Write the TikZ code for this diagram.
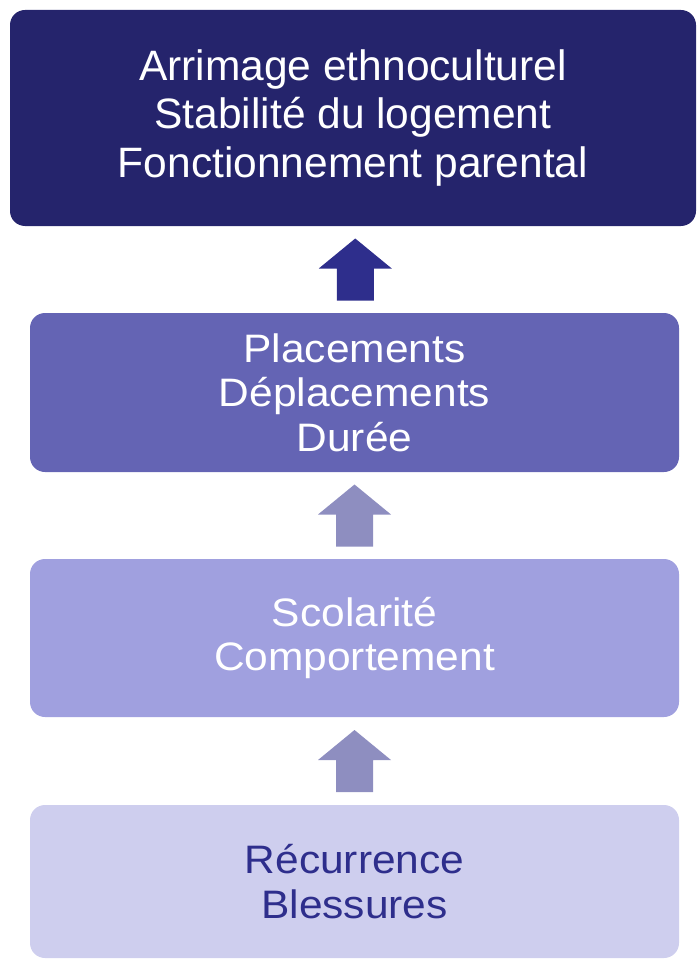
\documentclass[tikz,border=0pt]{standalone}
\usepackage{fontspec}
\setmainfont{Liberation Sans}
\newfontfamily\widesans{Liberation Sans}[FakeStretch=1.07]
\usetikzlibrary{positioning, calc}

\definecolor{levelA}{RGB}{37, 36, 108}
\definecolor{levelB}{RGB}{100, 100, 180}
\definecolor{levelC}{RGB}{160, 160, 223}
\definecolor{levelD}{RGB}{206, 206, 238}
\definecolor{arrowA}{RGB}{46, 46, 140}
\definecolor{arrowB}{RGB}{142, 142, 192}

\tikzset{
  level/.style={rectangle, rounded corners=15pt, align=center, inner sep=0pt,
                minimum width=649pt},
  leveltext/.style={font=\widesans\fontsize{39.7}{44.5}\selectfont},
}

\newcommand{\uparrowat}[2]{%
  \fill[#2] ($(#1)+(0,-31)$) -- ($(#1)+(36.5,-1)$) -- ($(#1)+(18.5,-1)$)
    -- ($(#1)+(18.5,31)$) -- ($(#1)+(-18.5,31)$) -- ($(#1)+(-18.5,-1)$)
    -- ($(#1)+(-36.5,-1)$) -- cycle;
}

\begin{document}
\begin{tikzpicture}[x=1pt, y=-1pt]
  \useasboundingbox (0,0) rectangle (696,960);

  % Levels, top to bottom
  \node[level, fill=levelA, text=white, minimum width=686pt, minimum height=216pt,
        font=\fontsize{42.5}{48.5}\selectfont] (top) at (353,118)
    {Arrimage ethnoculturel\\Stabilité du logement\\Fonctionnement parental};
  \node[level, leveltext, fill=levelB, text=white, minimum height=159pt] (place) at (354.5,392.5)
    {Placements\\Déplacements\\Durée};
  \node[level, leveltext, fill=levelC, text=white, minimum height=158pt] (school) at (354.5,638)
    {Scolarité\\Comportement};
  \node[level, leveltext, fill=levelD, text=arrowA, minimum height=153pt] (injury) at (354.5,881.5)
    {Récurrence\\Blessures};

  % Block arrows between levels
  \coordinate (a1) at ($(top.south)!0.5!(place.north)+(1.5,0)$);
  \coordinate (a2) at ($(place.south)!0.5!(school.north)$);
  \coordinate (a3) at ($(school.south)!0.5!(injury.north)$);
  \uparrowat{a1}{arrowA}
  \uparrowat{a2}{arrowB}
  \uparrowat{a3}{arrowB}
\end{tikzpicture}
\end{document}
